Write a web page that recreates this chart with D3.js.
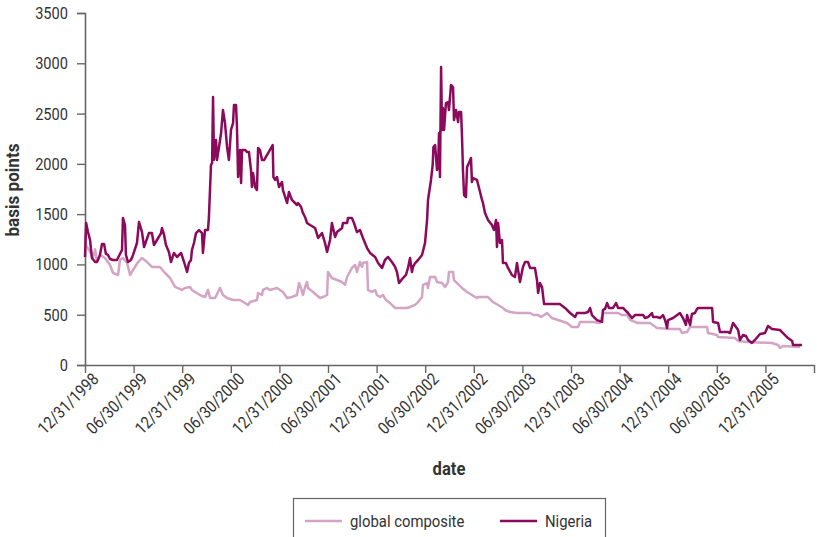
<!DOCTYPE html>
<html>
<head>
<meta charset="utf-8">
<script src="https://cdn.jsdelivr.net/npm/d3@7"></script>
<style>
  body { margin: 0; background: #fff; }
  svg { display: block; }
  text { font-family: Roboto, 'Noto Sans', sans-serif; fill: #333; }
</style>
</head>
<body>
<svg id="chart" width="817" height="537"></svg>
<script>
// x values: weeks after 12/31/1998 ; y values: basis points
const tickLabels = ["12/31/1998","06/30/1999","12/31/1999","06/30/2000","12/31/2000","06/30/2001",
  "12/31/2001","06/30/2002","12/31/2002","06/30/2003","12/31/2003","06/30/2004","12/31/2004",
  "06/30/2005","12/31/2005",""];
const yTicks = [0, 500, 1000, 1500, 2000, 2500, 3000, 3500];
const seriesNames = ["global composite", "Nigeria"];

const nigeria = [[0,1074],[0.6,1412],[1.6,1322],[2.7,1243],[3.7,1064],[5.4,1024],[6.4,1024],[8.0,1094],[9.1,1203],[10.2,1203],[11.2,1104],[12.3,1094],[13.4,1054],[15.0,1044],[17.1,1044],[18.7,1104],[19.8,1143],[20.3,1462],[21.4,1392],[21.9,1094],[23.0,1024],[24.6,1044],[25.7,1094],[27.8,1213],[28.9,1422],[30.5,1322],[31.6,1173],[34.2,1312],[35.8,1312],[36.9,1193],[38.5,1243],[40.7,1312],[41.2,1362],[42.3,1293],[43.3,1193],[44.9,1124],[46.0,1024],[47.6,1114],[49.2,1074],[51.4,1114],[53.0,1024],[54.6,925],[55.6,1014],[56.7,1044],[57.2,1143],[58.3,1213],[59.4,1312],[61.0,1342],[62.6,1312],[63.1,1114],[64.2,1342],[65.8,1342],[66.3,1472],[67.4,1989],[68.0,2009],[68.5,2665],[69.0,2040],[70.1,2237],[70.6,2038],[71.7,2168],[72.8,2307],[73.8,2535],[74.9,2406],[76.0,2168],[77.0,2038],[78.1,2337],[79.2,2406],[79.7,2585],[80.8,2585],[81.3,2366],[81.9,1869],[82.9,2138],[83.5,1810],[84.0,2138],[85.6,2138],[86.7,2118],[87.7,2118],[88.8,1939],[89.3,1770],[89.9,1909],[91.0,1770],[92.0,1740],[92.6,2158],[93.6,2138],[94.7,2038],[95.8,2038],[100.4,2187],[100.8,1869],[101.7,1840],[102.7,1869],[103.8,1770],[105.4,1820],[105.9,1740],[108.1,1611],[109.1,1720],[110.7,1641],[113.4,1591],[114.0,1611],[115.6,1571],[116.6,1511],[117.7,1472],[118.8,1412],[120.4,1392],[123.1,1362],[124.7,1263],[126.8,1312],[128.4,1213],[129.5,1124],[131.1,1243],[132.1,1412],[133.8,1273],[134.8,1322],[137.5,1362],[138.0,1412],[140.2,1412],[140.7,1462],[142.8,1462],[143.9,1412],[145.5,1322],[147.1,1342],[148.7,1263],[150.9,1163],[152.5,1114],[155.2,1074],[156.8,1014],[158.9,965],[160.5,1044],[162.1,1074],[164.2,1024],[165.9,975],[166.9,925],[168.0,815],[170.1,865],[171.7,895],[172.8,965],[173.9,1064],[174.9,925],[175.5,975],[176.6,1014],[178.2,1044],[180.3,1094],[181.9,1213],[183.0,1442],[183.5,1641],[185.1,1840],[186.0,1989],[186.4,2168],[187.3,2187],[188.3,1939],[188.9,1969],[189.4,2307],[189.9,1869],[190.5,2963],[191.0,2337],[191.5,2555],[192.1,2337],[193.1,2605],[194.2,2615],[194.7,2535],[195.8,2784],[196.9,2764],[197.4,2436],[198.5,2535],[199.6,2416],[200.1,2515],[201.2,2515],[201.7,2267],[202.2,1939],[202.8,1690],[203.8,1670],[204.4,1969],[205.4,2009],[206.5,2058],[207.0,1820],[207.6,1859],[209.7,1840],[210.8,1760],[212.4,1641],[212.9,1611],[214.0,1511],[215.6,1442],[217.7,1392],[218.8,1342],[219.9,1442],[220.4,1173],[221.0,1412],[222.0,1213],[223.1,1243],[223.6,1014],[225.2,1014],[226.3,965],[228.4,895],[230.0,875],[231.1,1014],[232.7,825],[234.3,975],[235.4,1024],[237.0,1024],[238.1,965],[240.7,965],[241.8,845],[242.4,716],[243.4,815],[244.5,776],[245.6,606],[246.6,606],[254.0,606],[256.8,567],[259.5,517],[262.2,477],[263.2,517],[267.5,517],[269.1,527],[270.2,567],[271.2,497],[273.9,447],[276.6,428],[277.1,547],[278.2,557],[279.3,616],[280.3,567],[282.5,567],[284.1,616],[285.2,567],[287.8,567],[290.5,517],[292.6,467],[294.3,497],[298.6,497],[299.6,467],[301.2,477],[303.3,517],[303.9,477],[306.0,477],[307.6,467],[309.2,497],[310.3,447],[311.4,368],[311.9,447],[314.6,467],[318.3,517],[319.9,467],[321.5,398],[322.1,497],[323.7,398],[324.7,507],[326.3,517],[327.4,557],[328.0,567],[335.5,567],[336.0,428],[338.7,418],[339.7,328],[344.0,328],[345.1,318],[346.7,418],[349.4,348],[350.4,249],[352.0,298],[353.6,288],[354.7,249],[356.8,219],[358.4,249],[361.1,308],[363.8,318],[365.4,388],[367.5,358],[371.8,348],[373.4,318],[376.1,268],[378.3,239],[378.8,199],[383.6,199]];

const composite = [[0,1300],[0.6,1190],[2.7,1124],[4.3,1074],[5.4,1150],[6.4,1024],[8.0,1094],[10.7,1064],[13.4,994],[15.0,915],[17.7,895],[18.7,1044],[20.3,1064],[22.5,1014],[24.1,895],[25.7,945],[28.4,1024],[30.5,1064],[33.2,1024],[35.8,975],[40.1,975],[42.8,915],[45.5,865],[48.2,776],[51.9,746],[53.5,766],[56.2,776],[57.2,746],[58.9,726],[61.5,696],[64.2,676],[65.8,746],[66.9,666],[69.6,666],[72.2,766],[73.8,696],[76.0,666],[79.2,646],[82.9,646],[85.6,616],[87.2,597],[88.3,626],[92.0,646],[92.6,716],[94.7,696],[95.2,746],[97.4,766],[99.0,746],[102.7,766],[104.3,746],[105.9,726],[108.1,666],[110.7,676],[113.4,696],[114.5,815],[115.0,796],[116.6,696],[117.7,776],[118.8,825],[119.3,766],[122.0,726],[125.7,666],[127.3,676],[129.5,696],[130.0,925],[132.1,865],[134.8,845],[137.5,825],[139.1,796],[140.2,875],[142.8,965],[144.5,994],[145.5,925],[147.1,1024],[148.2,975],[148.7,1014],[150.9,1024],[151.4,746],[153.5,726],[155.2,746],[156.2,696],[157.8,676],[159.4,696],[161.0,646],[163.2,616],[165.9,567],[172.3,567],[173.9,577],[176.6,597],[178.2,626],[180.3,676],[180.8,796],[183.0,815],[183.5,766],[184.6,875],[187.3,875],[188.3,825],[191.0,815],[192.6,776],[194.2,825],[194.7,925],[196.9,925],[197.4,845],[199.0,815],[201.7,766],[204.4,726],[207.0,696],[209.7,666],[210.3,676],[215.6,676],[218.3,626],[221.0,597],[223.6,567],[224.7,547],[227.4,527],[231.1,517],[238.1,517],[240.0,497],[242.4,497],[244.0,477],[247.2,517],[249.8,467],[257.9,418],[260.5,378],[263.8,378],[264.8,428],[271.8,428],[275.5,418],[277.1,517],[285.2,517],[287.3,497],[290.0,497],[291.6,448],[294.3,428],[295.9,418],[302.3,418],[306.0,368],[313.0,358],[318.3,358],[319.4,318],[322.1,328],[323.7,378],[332.8,378],[333.3,318],[338.1,298],[338.7,278],[347.8,268],[349.4,239],[354.2,229],[367.5,219],[370.8,199],[371.8,169],[373.4,189],[382.5,179]];

const colors = { composite: "#d4a4c4", nigeria: "#8b0a5c" };

const svg = d3.select("#chart");
const margin = { left: 85, top: 13, right: 3, bottom: 172 };
const W = 817 - margin.left - margin.right;
const H = 537 - margin.top - margin.bottom;

const x = d3.scaleLinear().domain([0, 390]).range([0, W]);
const y = d3.scaleLinear().domain([0, 3500]).range([H, 0]);

const g = svg.append("g").attr("transform", `translate(${margin.left},${margin.top})`);

const SX = 0.86; // horizontal condensing of the narrow label face

// Y axis
const yAxis = g.append("g")
  .call(d3.axisLeft(y).tickValues(yTicks).tickSize(8).tickPadding(9).tickFormat(d3.format("d")));
yAxis.select(".domain").attr("stroke", "#666").attr("stroke-width", 1.6);
yAxis.selectAll(".tick line").attr("stroke", "#666").attr("stroke-width", 1.4);
yAxis.selectAll(".tick text")
  .style("font-size", "17px").attr("fill", "#2b2b2b")
  .attr("x", -17 / SX).attr("transform", `scale(${SX},1)`);

// X axis
const xTickVals = tickLabels.map((d, i) => i * 26);
const xAxis = g.append("g").attr("transform", `translate(0,${H})`)
  .call(d3.axisBottom(x).tickValues(xTickVals).tickSize(8).tickSizeOuter(0)
        .tickFormat((d, i) => tickLabels[i]));
xAxis.select(".domain").attr("stroke", "#666").attr("stroke-width", 1.6);
xAxis.selectAll(".tick line").attr("stroke", "#666").attr("stroke-width", 1.4);
xAxis.selectAll(".tick text")
  .style("font-size", "17px").attr("fill", "#2b2b2b")
  .attr("text-anchor", "end")
  .attr("transform", `translate(10,11) rotate(-45) scale(${SX},1)`)
  .attr("dx", 0).attr("dy", "0.35em").attr("y", 0).attr("x", 0);

// Lines
const line = d3.line().x(d => x(d[0])).y(d => y(d[1]));
g.append("path").datum(composite)
  .attr("fill", "none").attr("stroke", colors.composite).attr("stroke-width", 2.5)
  .attr("stroke-linejoin", "round").attr("d", line);
g.append("path").datum(nigeria)
  .attr("fill", "none").attr("stroke", colors.nigeria).attr("stroke-width", 2.5)
  .attr("stroke-linejoin", "round").attr("d", line);

// Axis titles
svg.append("text")
  .attr("transform", "translate(19,190) rotate(-90) scale(0.95,1)")
  .attr("text-anchor", "middle")
  .style("font-size", "18px").style("font-weight", "bold").attr("fill", "#222")
  .text("basis points");
svg.append("text")
  .attr("transform", "translate(449,475) scale(0.95,1)")
  .attr("text-anchor", "middle")
  .style("font-size", "17.5px").style("font-weight", "bold").attr("fill", "#222")
  .text("date");

// Legend
const leg = svg.append("g");
leg.append("rect").attr("x", 293.5).attr("y", 498.5).attr("width", 312).attr("height", 50)
  .attr("fill", "none").attr("stroke", "#666").attr("stroke-width", 1.2);
const legItems = [
  { name: seriesNames[0], color: colors.composite, x: 305 },
  { name: seriesNames[1], color: colors.nigeria, x: 500 }
];
legItems.forEach(it => {
  leg.append("line").attr("x1", it.x).attr("x2", it.x + 37).attr("y1", 521).attr("y2", 521)
    .attr("stroke", it.color).attr("stroke-width", 2.5);
  leg.append("text").attr("transform", `translate(${it.x + 45},527) scale(0.93,1)`)
    .style("font-size", "16px").attr("fill", "#333").text(it.name);
});
</script>
</body>
</html>
